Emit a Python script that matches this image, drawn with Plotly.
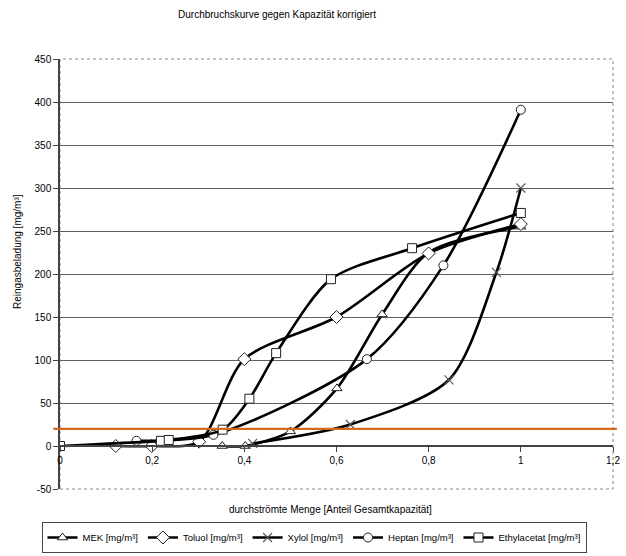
import plotly.graph_objects as go

# ---- data ----
mek_x = [0.352, 0.402, 0.5, 0.601, 0.699, 0.8, 1.0]
mek_y = [0, 0, 17, 67, 153, 225, 255]

toluol_x = [0.121, 0.199, 0.302, 0.40, 0.6, 0.8, 1.0]
toluol_y = [0, 0, 5, 101, 150, 224, 258]

xylol_x = [0.418, 0.63, 0.844, 0.947, 1.0]
xylol_y = [3, 25, 77, 202, 300]

heptan_x = [0.166, 0.333, 0.666, 0.832, 1.0]
heptan_y = [6, 13, 101, 210, 391]

ethyl_x = [0, 0.219, 0.236, 0.353, 0.411, 0.469, 0.588, 0.764, 1.0]
ethyl_y = [0, 6, 7, 19, 55, 108, 194, 230, 271]

threshold = 20

x_ticks = [0, 0.2, 0.4, 0.6, 0.8, 1.0, 1.2]
x_tick_text = ["0", "0,2", "0,4", "0,6", "0,8", "1", "1,2"]
y_ticks = [-50, 0, 50, 100, 150, 200, 250, 300, 350, 400, 450]
y_tick_text = ["-50", "0", "50", "100", "150", "200", "250", "300", "350", "400", "450"]

series = [
    ("MEK [mg/m³]", mek_x, mek_y, "triangle-up"),
    ("Toluol [mg/m³]", toluol_x, toluol_y, "diamond"),
    ("Xylol [mg/m³]", xylol_x, xylol_y, "x-thin"),
    ("Heptan [mg/m³]", heptan_x, heptan_y, "circle"),
    ("Ethylacetat [mg/m³]", ethyl_x, ethyl_y, "square"),
]

FONT = "Liberation Sans, Arial, sans-serif"

fig = go.Figure()
for name, xs, ys, sym in series:
    if sym == "x-thin":
        marker = dict(symbol=sym, size=9, line=dict(color="#555555", width=1.1))
    else:
        msize = 10 if sym == "diamond" else 9
        marker = dict(symbol=sym, size=msize, color="white",
                      line=dict(color="#222222", width=1))
    fig.add_trace(go.Scatter(
        x=xs, y=ys, name=name, mode="lines+markers",
        line=dict(color="black", width=2.6, shape="spline", smoothing=0.8),
        marker=marker,
    ))

# threshold line (orange)
fig.add_shape(type="line", xref="x domain", yref="y",
              x0=-0.012, x1=1.007, y0=threshold, y1=threshold,
              line=dict(color="#D2691E", width=2.2), layer="above")

# dotted plot border
fig.add_shape(type="rect", xref="x domain", yref="y domain",
              x0=0, x1=1, y0=0, y1=1,
              line=dict(color="#888888", width=1, dash="dot"), layer="below")

fig.update_layout(
    width=626, height=556,
    margin=dict(l=60, r=13, t=59, b=67, autoexpand=False),
    paper_bgcolor="white", plot_bgcolor="white",
    font=dict(family=FONT, size=10, color="black"),
    title=dict(text="Durchbruchskurve gegen Kapazität korrigiert",
               x=277 / 626, xref="container", xanchor="center",
               y=1 - 14 / 556, yref="container", yanchor="middle",
               font=dict(size=10, family=FONT)),
    showlegend=True,
    legend=dict(orientation="h", xref="container", yref="container",
                x=314 / 626, xanchor="center", y=1 - 553 / 556, yanchor="bottom",
                bgcolor="white", bordercolor="#444444", borderwidth=1,
                font=dict(size=9.5, family=FONT), itemwidth=30,
                tracegroupgap=0),
    xaxis=dict(range=[0, 1.2], tickvals=x_ticks, ticktext=x_tick_text,
               showgrid=False, zeroline=False, showline=True,
               linecolor="#444444", linewidth=1.5,
               ticks="outside", ticklen=5, tickcolor="#444444",
               anchor="free", position=0.1,
               tickfont=dict(size=10, family=FONT)),
    yaxis=dict(range=[-50, 450], tickvals=y_ticks, ticktext=y_tick_text,
               showgrid=True, gridcolor="#606060", gridwidth=1.4,
               zeroline=False, showline=True, linecolor="#444444", linewidth=1.5,
               ticks="outside", ticklen=5, tickcolor="#444444",
               tickfont=dict(size=10, family=FONT)),
    annotations=[
        dict(text="durchströmte Menge [Anteil Gesamtkapazität]",
             xref="paper", yref="paper", x=(330 - 60) / 553, y=(489 - 510) / 430,
             xanchor="center", yanchor="middle", showarrow=False,
             font=dict(size=10, family=FONT)),
        dict(text="Reingasbeladung [mg/m³]", textangle=-90,
             xref="paper", yref="paper", x=(17 - 60) / 553, y=(489 - 252) / 430,
             xanchor="center", yanchor="middle", showarrow=False,
             font=dict(size=10, family=FONT)),
    ],
)

fig.write_html("out.html", config={"displayModeBar": False},
               post_script="document.body.style.margin='0';document.body.style.overflow='hidden';")
